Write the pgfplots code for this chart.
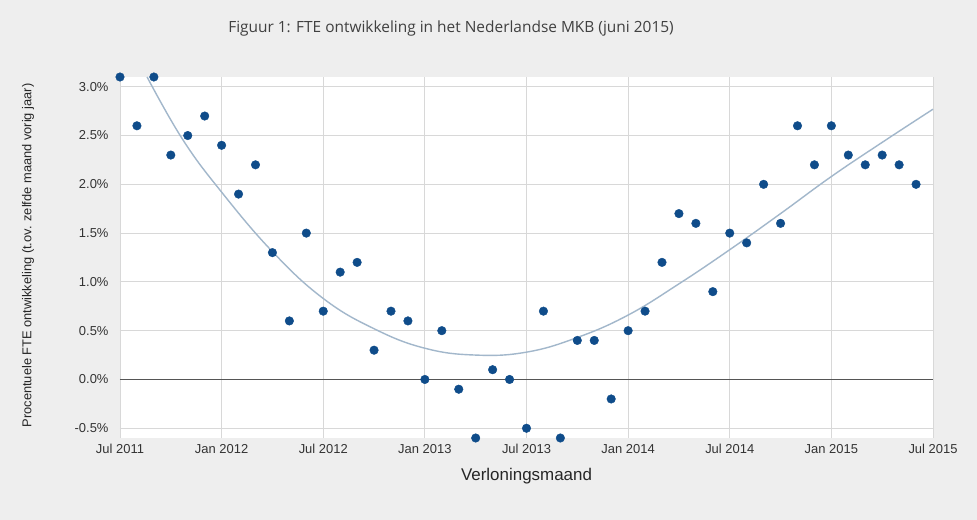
\documentclass[border=0pt]{standalone}
\usepackage{pgfplots}
\pgfplotsset{compat=1.18}
\usepackage{pgfplotstable}
\usepackage{fontspec}
\setmainfont{Liberation Sans}
\newfontfamily\titlefont{Open Sans}
\definecolor{bg}{HTML}{EEEEEE}
\definecolor{gridgray}{HTML}{D8D8D8}
\definecolor{tickgray}{HTML}{333333}
\definecolor{dotblue}{HTML}{0F4C8A}
\definecolor{trendblue}{HTML}{A2B7CB}
\definecolor{zeroline}{HTML}{555555}

\pgfplotstableread{
m v
0 3.1
1 2.6
2 3.1
3 2.3
4 2.5
5 2.7
6 2.4
7 1.9
8 2.2
9 1.3
10 0.6
11 1.5
12 0.7
13 1.1
14 1.2
15 0.3
16 0.7
17 0.6
18 0.0
19 0.5
20 -0.1
21 -0.6
22 0.1
23 0.0
24 -0.5
25 0.7
26 -0.6
27 0.4
28 0.4
29 -0.2
30 0.5
31 0.7
32 1.2
33 1.7
34 1.6
35 0.9
36 1.5
37 1.4
38 2.0
39 1.6
40 2.6
41 2.2
42 2.6
43 2.3
44 2.2
45 2.3
46 2.2
47 2.0
}\fte

\pgfplotstableread{
m v
1.6 3.10
3.7 2.46
6 1.92
9 1.31
12 0.83
15 0.52
18 0.32
21 0.25
24 0.28
27 0.43
30 0.66
33 0.98
36 1.33
39 1.70
42 2.08
45 2.43
48 2.77
}\trend

\begin{document}
\begin{tikzpicture}
\fill[bg] (-120bp,-82bp) rectangle (857bp,438bp);
\begin{axis}[
  at={(0bp,0bp)}, anchor=south west,
  scale only axis, width=813bp, height=361bp,
  xmin=0, xmax=48, ymin=-0.6, ymax=3.1,
  axis line style={draw=none},
  axis background/.style={fill=white},
  xtick={0,6,12,18,24,30,36,42,48},
  xticklabels={Jul 2011,Jan 2012,Jul 2012,Jan 2013,Jul 2013,Jan 2014,Jul 2014,Jan 2015,Jul 2015},
  ytick={-0.5,0,0.5,1,1.5,2,2.5,3},
  yticklabels={-0.5\%,0.0\%,0.5\%,1.0\%,1.5\%,2.0\%,2.5\%,3.0\%},
  major tick length=0pt,
  grid=major,
  grid style={draw=gridgray, line width=0.8bp},
  tick label style={font=\fontsize{13}{15}\selectfont, text=tickgray},
  yticklabel style={xshift=-8bp},
  xticklabel style={yshift=-3bp},
  clip=false,
]
\addplot[zeroline, line width=1.2bp] coordinates {(0,0) (48,0)};
\addplot[trendblue, line width=1.4bp, smooth, tension=0.7, no marks] table[x=m,y=v] {\trend};
\addplot[only marks, mark=*, mark size=4.3bp, mark options={fill=dotblue, draw=dotblue}] table[x=m,y=v] {\fte};
\end{axis}
\node[font=\titlefont\fontsize{15.5}{18}\selectfont, text=black!75] at (331bp,410bp) {Figuur 1: FTE ontwikkeling in het Nederlandse MKB (juni 2015)};
\node[font=\fontsize{17}{19}\selectfont, text=black!85] at (406.5bp,-38bp) {Verloningsmaand};
\node[font=\fontsize{12.9}{15}\selectfont, text=black!85, rotate=90] at (-92bp,182.5bp) {Procentuele FTE ontwikkeling (t.ov. zelfde maand vorig jaar)};
\end{tikzpicture}
\end{document}
